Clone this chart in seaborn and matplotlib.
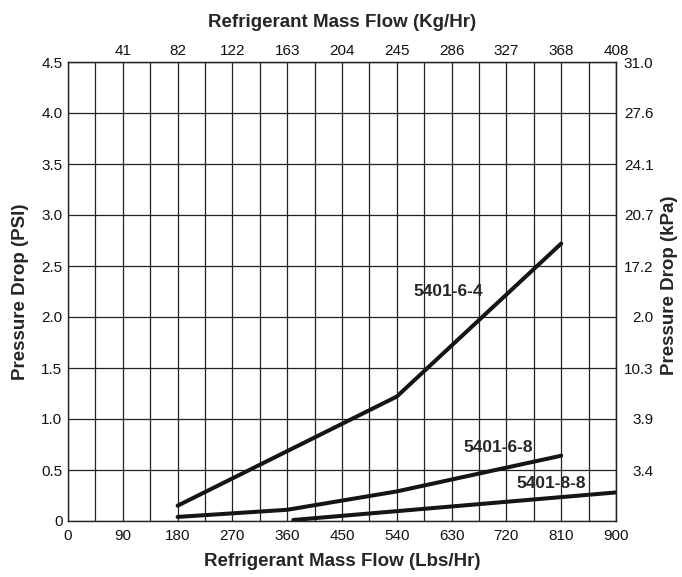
import matplotlib
matplotlib.use("Agg")
import matplotlib.pyplot as plt
import seaborn as sns
import pandas as pd
import numpy as np

# ---- data ----
flow_64 = [180, 540, 810]
drop_64 = [0.15, 1.22, 2.72]
flow_68 = [180, 360, 540, 810]
drop_68 = [0.04, 0.11, 0.29, 0.64]
flow_88 = [370, 900]
drop_88 = [0.01, 0.28]
series_names = ["5401-6-4", "5401-6-8", "5401-8-8"]

bottom_ticks = [0, 90, 180, 270, 360, 450, 540, 630, 720, 810, 900]
top_ticks = [90, 180, 270, 360, 450, 540, 630, 720, 810, 900]
top_labels = ["41", "82", "122", "163", "204", "245", "286", "327", "368", "408"]
left_ticks = [0, 0.5, 1.0, 1.5, 2.0, 2.5, 3.0, 3.5, 4.0, 4.5]
left_labels = ["0", "0.5", "1.0", "1.5", "2.0", "2.5", "3.0", "3.5", "4.0", "4.5"]
right_ticks = [0.5, 1.0, 1.5, 2.0, 2.5, 3.0, 3.5, 4.0, 4.5]
right_labels = ["3.4", "3.9", "10.3", "2.0", "17.2", "20.7", "24.1", "27.6", "31.0"]

df = pd.concat([
    pd.DataFrame({"flow": flow_64, "drop": drop_64, "model": series_names[0]}),
    pd.DataFrame({"flow": flow_68, "drop": drop_68, "model": series_names[1]}),
    pd.DataFrame({"flow": flow_88, "drop": drop_88, "model": series_names[2]}),
])

sns.set_style("white")
plt.rcParams["font.family"] = ["Liberation Sans", "DejaVu Sans"]

fig = plt.figure(figsize=(6.82, 5.77), dpi=100)
ax = fig.add_axes([68 / 682, 56 / 577, 548 / 682, 459 / 577])

sns.lineplot(data=df, x="flow", y="drop", hue="model",
             palette=["#151515"] * 3, linewidth=2.9, legend=False,
             ax=ax, sort=False, estimator=None)

ax.set_xlim(0, 900)
ax.set_ylim(0, 4.5)
ax.set_xticks(bottom_ticks)
ax.set_xticks(np.arange(45, 900, 90), minor=True)
ax.set_yticks(left_ticks)
ax.set_yticklabels(left_labels)
ax.grid(True, which="both", color="#222222", linewidth=0.9)
ax.set_axisbelow(True)
ax.tick_params(axis="both", which="both", length=0, labelsize=11, colors="#111111")
ax.tick_params(axis="x", pad=6)
ax.tick_params(axis="y", pad=4)
for s in ax.spines.values():
    s.set_color("#222222")
    s.set_linewidth(1.0)

ax.set_xlabel("Refrigerant Mass Flow (Lbs/Hr)", fontsize=13.5, fontweight="bold", labelpad=7)
ax.set_ylabel("Pressure Drop (PSI)", fontsize=13.5, fontweight="bold", labelpad=9)

# top axis
top = ax.secondary_xaxis("top")
top.set_xticks(top_ticks)
top.set_xticklabels(top_labels)
top.tick_params(length=0, labelsize=11, pad=3, colors="#111111")
top.set_xlabel("Refrigerant Mass Flow (Kg/Hr)", fontsize=13.5, fontweight="bold", labelpad=12)

# right axis
right = ax.secondary_yaxis("right")
right.set_yticks(right_ticks)
right.set_yticklabels(right_labels)
right.tick_params(length=0, labelsize=11, pad=27, colors="#111111")
for lab in right.get_yticklabels():
    lab.set_horizontalalignment("right")
fig.text(670 / 682, 1 - 285 / 577, "Pressure Drop (kPa)", fontsize=13.5, fontweight="bold",
         rotation=90, ha="center", va="center")

# series labels
ax.text(624, 2.25, series_names[0], fontsize=12.5, fontweight="bold", ha="center", va="center")
ax.text(706, 0.72, series_names[1], fontsize=12.5, fontweight="bold", ha="center", va="center")
ax.text(793, 0.37, series_names[2], fontsize=12.5, fontweight="bold", ha="center", va="center")

fig.savefig("out.png", dpi=100)
